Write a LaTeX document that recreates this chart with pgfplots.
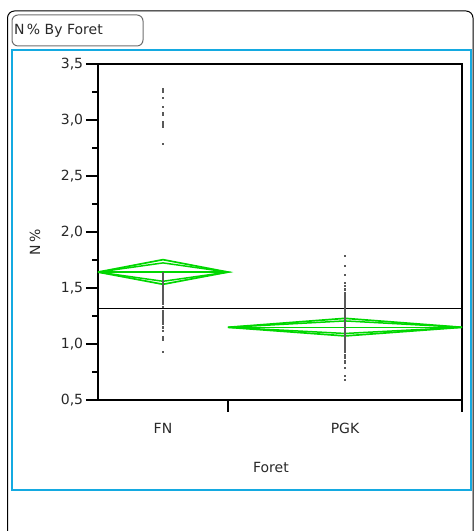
\documentclass[border=0pt]{standalone}
\usepackage{pgfplots}
\pgfplotsset{compat=1.18}
\usepackage{fontspec}
\setmainfont{DejaVu Sans}
\definecolor{jmpgreen}{RGB}{0,215,0}
\definecolor{jmpblue}{RGB}{20,170,225}
\definecolor{boxgray}{RGB}{110,110,110}
\definecolor{txt}{RGB}{40,40,40}
\begin{document}
\fontsize{14bp}{16bp}\selectfont
\begin{tikzpicture}[x=1bp,y=1bp]
\path[use as bounding box] (0,0) rectangle (476,531);
% outer frame
\draw[black, line width=1bp, rounded corners=7bp] (7.5,-10) -- (7.5,520) -- (473,520) -- (473,-10);
% title box
\draw[boxgray, line width=1bp, rounded corners=6bp] (12,485) rectangle (143,516);
\node[anchor=west, inner sep=0pt, text=txt] at (14,500.5) {N\,\% By Foret};
% blue frame
\draw[jmpblue, line width=1.6bp] (12,41) rectangle (471,481);
\begin{axis}[
  at={(98bp,131bp)}, anchor=south west,
  scale only axis, width=364bp, height=336bp,
  xmin=0, xmax=364, ymin=0.5, ymax=3.5,
  axis line style={line width=1.4bp, black},
  tick style={line width=1.2bp, black},
  tick align=outside,
  xtick pos=bottom, ytick pos=left,
  ytick={0.5,1,1.5,2,2.5,3,3.5},
  minor y tick num=1,
  major tick length=12bp, minor tick length=6bp,
  /pgf/number format/use comma,
  /pgf/number format/fixed,
  /pgf/number format/fixed zerofill,
  /pgf/number format/precision=1,
  /pgf/number format/assume math mode=true,
  yticklabel style={xshift=2bp},
  xtick={130,364}, xticklabels={},
  extra x ticks={65,247}, extra x tick labels={FN,PGK},
  extra x tick style={tick style={draw=none}, tick label style={yshift=-6bp}},
  ticklabel style={font=\fontsize{14bp}{16bp}\selectfont, text=txt},
  label style={text=txt},
  xlabel={Foret}, ylabel={N\,\%},
  xlabel style={at={(axis description cs:0.475,-0.2)}, anchor=center},
  ylabel style={at={(axis description cs:-0.173,0.47)}, anchor=center},
  clip=false,
]
% diamonds FN
\addplot[jmpgreen, line width=1.7bp] coordinates {(0,1.642) (65,1.753) (130,1.642) (65,1.533) (0,1.642)};
\addplot[jmpgreen, line width=1.5bp] coordinates {(0,1.642) (65,1.724) (130,1.642) (65,1.560) (0,1.642)};
\addplot[jmpgreen, line width=1.5bp] coordinates {(0,1.642) (130,1.642)};
% diamonds PGK
\addplot[jmpgreen, line width=1.7bp] coordinates {(130,1.149) (247,1.229) (364,1.149) (247,1.072) (130,1.149)};
\addplot[jmpgreen, line width=1.5bp] coordinates {(130,1.149) (247,1.206) (364,1.149) (247,1.094) (130,1.149)};
\addplot[jmpgreen, line width=1.5bp] coordinates {(130,1.149) (364,1.149)};
% points FN
\addplot[only marks, mark=square*, mark size=0.6bp, black!65] coordinates {
(65,3.28) (65,3.27) (65,3.25) (65,3.20) (65,3.12) (65,3.06) (65,3.05) (65,2.98) (65,2.96) (65,2.94) (65,2.79)
(65,1.64) (65,1.62) (65,1.60) (65,1.58) (65,1.57) (65,1.55) (65,1.53) (65,1.52) (65,1.50) (65,1.48) (65,1.47)
(65,1.45) (65,1.43) (65,1.42) (65,1.40) (65,1.38) (65,1.36) (65,1.33) (65,1.30) (65,1.28) (65,1.26) (65,1.24)
(65,1.22) (65,1.20) (65,1.18) (65,1.15) (65,1.12) (65,1.06) (65,1.04) (65,0.93)};
% points PGK
\addplot[only marks, mark=square*, mark size=0.6bp, black!65] coordinates {
(247,1.79) (247,1.70) (247,1.62) (247,1.55) (247,1.52) (247,1.49) (247,1.46) (247,1.45) (247,1.43) (247,1.42)
(247,1.40) (247,1.38) (247,1.37) (247,1.35) (247,1.34) (247,1.33) (247,1.31) (247,1.30) (247,1.29) (247,1.28)
(247,1.27) (247,1.25) (247,1.24) (247,1.23) (247,1.22) (247,1.21) (247,1.20) (247,1.19) (247,1.18) (247,1.17)
(247,1.16) (247,1.15) (247,1.14) (247,1.13) (247,1.12) (247,1.11) (247,1.10) (247,1.09) (247,1.08) (247,1.07)
(247,1.05) (247,1.04) (247,1.02) (247,1.01) (247,0.99) (247,0.97) (247,0.95) (247,0.93) (247,0.90) (247,0.88)
(247,0.85) (247,0.83) (247,0.79) (247,0.72) (247,0.68)};
% grand mean
\addplot[black, line width=1.4bp] coordinates {(0,1.318) (364,1.318)};
\end{axis}
\end{tikzpicture}
\end{document}
